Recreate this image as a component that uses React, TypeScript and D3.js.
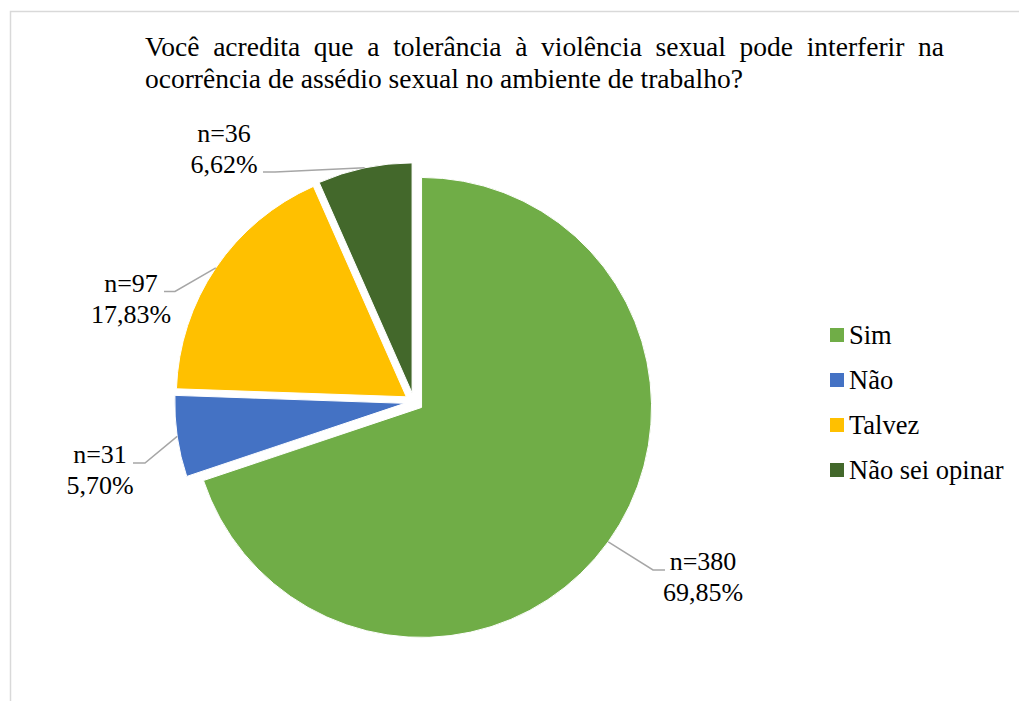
import React, { useEffect, useRef } from "react";
import * as d3 from "d3";

const categories = ["Sim", "Não", "Talvez", "Não sei opinar"];
const counts = [380, 31, 97, 36];
const percentLabels = ["69,85%", "5,70%", "17,83%", "6,62%"];
const colors = ["#70AD47", "#4472C4", "#FFC000", "#43682B"];
const titleLines = [
  "Você acredita que a tolerância à violência sexual pode interferir na",
  "ocorrência de assédio sexual no ambiente de trabalho?",
];

const W = 1019;
const H = 701;
const FONT = "'Liberation Serif', 'Times New Roman', serif";

// label layout: text center x, first baseline y, leader polyline (from label side) ending on slice
const labelLayout = [
  { cx: 703, y: 570, elbow: [[665, 570], [653, 570]] },
  { cx: 100, y: 463, elbow: [[133, 463], [145, 463]] },
  { cx: 131, y: 291.5, elbow: [[164, 291.5], [175, 291.5]] },
  { cx: 224, y: 141.5, elbow: [[263, 172], [275, 172]] },
];

export default function App() {
  const ref = useRef<SVGSVGElement>(null);

  useEffect(() => {
    const svg = d3.select(ref.current);
    svg.selectAll("*").remove();

    // frame
    svg
      .append("path")
      .attr("d", `M10.5,${H + 5} L10.5,11.5 L${W + 5},11.5`)
      .attr("fill", "none")
      .attr("stroke", "#d9d9d9")
      .attr("stroke-width", 1.5);

    // title
    const titleSize = 27.5;
    const x0 = 145;
    const x1 = 944;
    const g = svg.append("g").attr("font-family", FONT).attr("font-size", titleSize).attr("fill", "#000");
    const words = titleLines[0].split(" ");
    const widths = words.map((w) => {
      const t = g.append("text").text(w);
      const wd = (t.node() as SVGTextElement).getComputedTextLength();
      t.remove();
      return wd;
    });
    const total = d3.sum(widths);
    const gap = (x1 - x0 - total) / (words.length - 1);
    let cx = x0;
    words.forEach((w, i) => {
      g.append("text").attr("x", cx).attr("y", 56).text(w);
      cx += widths[i] + gap;
    });
    g.append("text").attr("x", x0).attr("y", 87.5).text(titleLines[1]);

    // pie
    const r = 230;
    const center = [414, 402];
    const explode = 9.3;
    const pie = d3.pie<number>().sort(null).value((d) => d);
    const arcs = pie(counts);
    const arcGen = d3.arc<d3.PieArcDatum<number>>().innerRadius(0).outerRadius(r);

    const pieG = svg.append("g").attr("transform", `translate(${center[0]},${center[1]})`);
    arcs.forEach((a, i) => {
      const mid = (a.startAngle + a.endAngle) / 2;
      const dx = explode * Math.sin(mid);
      const dy = -explode * Math.cos(mid);
      pieG
        .append("path")
        .attr("d", arcGen(a) as string)
        .attr("transform", `translate(${dx},${dy})`)
        .attr("fill", colors[i])
        .attr("stroke", "#fff")
        .attr("stroke-width", 1);

      // leader line
      const ex = center[0] + dx + r * Math.sin(mid);
      const ey = center[1] + dy - r * Math.cos(mid);
      const L = labelLayout[i];
      const pts: [number, number][] = [...(L.elbow as [number, number][]), [ex, ey]];
      svg
        .append("path")
        .attr("d", d3.line()(pts) as string)
        .attr("fill", "none")
        .attr("stroke", "#A6A6A6")
        .attr("stroke-width", 1.5);

      const lg = svg
        .append("g")
        .attr("font-family", FONT)
        .attr("font-size", 26)
        .attr("text-anchor", "middle")
        .attr("fill", "#000");
      lg.append("text").attr("x", L.cx).attr("y", L.y).text(`n=${counts[i]}`);
      lg.append("text").attr("x", L.cx).attr("y", L.y + 31).text(percentLabels[i]);
    });

    // legend
    const leg = svg.append("g").attr("font-family", FONT).attr("font-size", 26.5);
    const ly = d3.scalePoint<string>().domain(categories).range([335, 470]);
    categories.forEach((c, i) => {
      const y = ly(c) as number;
      leg.append("rect").attr("x", 830).attr("y", y - 7).attr("width", 14).attr("height", 14).attr("fill", colors[i]);
      leg.append("text").attr("x", 849).attr("y", y + 9).text(c);
    });
  }, []);

  return (
    <svg
      ref={ref}
      width={W}
      height={H}
      style={{ position: "absolute", left: 0, top: 0, background: "#fff" }}
    />
  );
}
